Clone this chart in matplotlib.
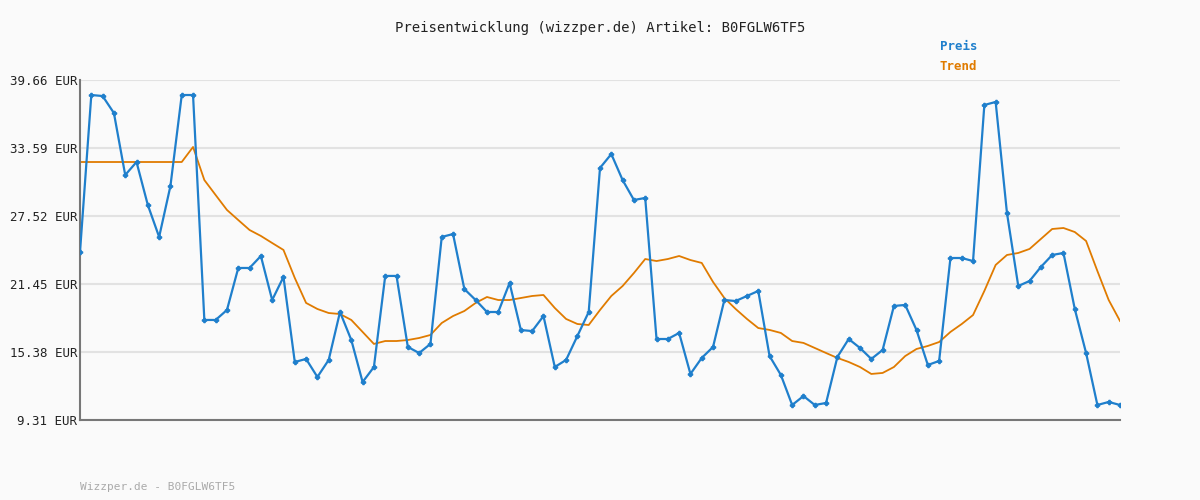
import matplotlib
matplotlib.use("Agg")
import matplotlib.pyplot as plt
import numpy as np

preis = [24.31, 38.32, 38.23, 36.71, 31.18, 32.34, 28.50, 25.65, 30.20, 38.32,
         38.32, 18.24, 18.24, 19.13, 22.88, 22.88, 23.95, 20.02, 22.08, 14.49,
         14.76, 13.15, 14.67, 18.95, 16.45, 12.70, 14.04, 22.17, 22.17, 15.83,
         15.29, 16.10, 25.65, 25.91, 21.00, 20.02, 18.95, 18.95, 21.54, 17.34,
         17.25, 18.59, 14.04, 14.67, 16.81, 18.95, 31.81, 33.05, 30.73, 28.95,
         29.13, 16.54, 16.54, 17.08, 13.42, 14.85, 15.83, 20.02, 19.93, 20.38,
         20.83, 15.02, 13.33, 10.65, 11.45, 10.65, 10.83, 14.94, 16.54, 15.74,
         14.76, 15.56, 19.49, 19.58, 17.34, 14.22, 14.58, 23.77, 23.77, 23.50,
         37.43, 37.70, 27.79, 21.27, 21.72, 22.97, 24.04, 24.22, 19.22, 15.29,
         10.65, 10.92, 10.65]
trend = [32.34, 32.34, 32.34, 32.34, 32.34, 32.34, 32.34, 32.34, 32.34, 32.34,
         33.68, 30.73, 29.39, 28.06, 27.16, 26.27, 25.74, 25.11, 24.49, 21.99,
         19.76, 19.22, 18.86, 18.77, 18.24, 17.17, 16.10, 16.36, 16.36, 16.45,
         16.63, 16.90, 17.97, 18.59, 19.04, 19.76, 20.29, 20.02, 20.02, 20.20,
         20.38, 20.47, 19.31, 18.33, 17.88, 17.79, 19.13, 20.38, 21.27, 22.43,
         23.68, 23.50, 23.68, 23.95, 23.59, 23.33, 21.63, 20.20, 19.22, 18.33,
         17.52, 17.35, 17.08, 16.36, 16.19, 15.74, 15.29, 14.85, 14.49, 14.04,
         13.42, 13.51, 14.04, 15.02, 15.65, 15.92, 16.27, 17.17, 17.88, 18.68,
         20.83, 23.15, 24.04, 24.22, 24.58, 25.47, 26.36, 26.45, 26.09, 25.29,
         22.61, 20.02, 18.15]
yticks = [9.31, 15.38, 21.45, 27.52, 33.59, 39.66]

mono = "DejaVu Sans Mono"
fig = plt.figure(figsize=(12, 5), dpi=100, facecolor="#fafafa")
ax = fig.add_axes([80/1200, 80/500, 1040/1200, 340/500], facecolor="#fafafa")
xp = np.linspace(0, 1, len(preis))
xt = np.linspace(0, 1, len(trend))
ax.plot(xt, trend, color="#e07b00", lw=1.3, zorder=2)
ax.plot(xp, preis, color="#1f7fcc", lw=1.6, marker="P", ms=3, zorder=3)
ax.set_xlim(0, 1)
ax.set_ylim(9.31, 39.66)
ax.set_yticks(yticks)
ax.set_yticklabels([f"{v:.2f} EUR" for v in yticks], fontfamily=mono, fontsize=9, color="#222222")
ax.set_xticks([])
ax.tick_params(axis="y", length=0, pad=2)
ax.grid(axis="y", color="#e2e2e2", lw=1.5)
ax.set_axisbelow(True)
for s in ["top", "right"]:
    ax.spines[s].set_visible(False)
for s in ["left", "bottom"]:
    ax.spines[s].set_color("#777777")
    ax.spines[s].set_linewidth(1.5)

fig.text(0.5, 1 - 28/500, "Preisentwicklung (wizzper.de) Artikel: B0FGLW6TF5",
         ha="center", va="center", fontfamily=mono, fontsize=10, color="#222222")
fig.text(940/1200, 1 - 47/500, "Preis", fontfamily=mono, fontsize=9, fontweight="bold",
         color="#1f7fcc", va="center")
fig.text(940/1200, 1 - 67/500, "Trend", fontfamily=mono, fontsize=9, fontweight="bold",
         color="#e07b00", va="center")
fig.text(80/1200, 1 - 487/500, "Wizzper.de - B0FGLW6TF5", fontfamily=mono, fontsize=8,
         color="#aaaaaa", va="center")
fig.savefig("out.png", dpi=100, facecolor="#fafafa")
